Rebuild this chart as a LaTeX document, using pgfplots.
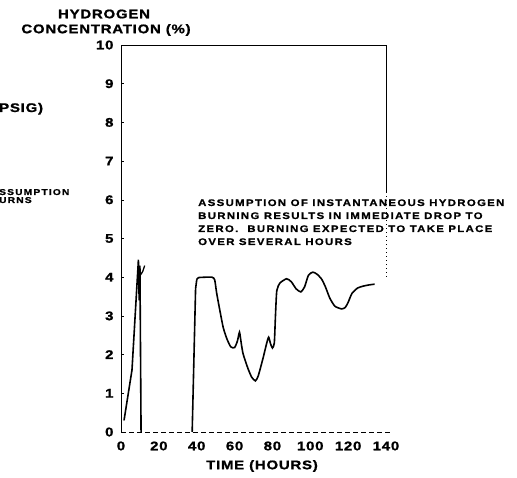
\documentclass[border=0pt]{standalone}
\usepackage{pgfplots}
\pgfplotsset{compat=1.18}
\usepackage{fontspec}
\newfontfamily\lab{Liberation Sans Bold}[FakeStretch=1.2, LetterSpace=6, FakeBold=1.2]
\newfontfamily\ann{Liberation Sans Bold}[FakeStretch=1.2, LetterSpace=14, FakeBold=1.0]
\begin{document}
\begin{tikzpicture}[x=1pt,y=1pt]
\useasboundingbox (0,0) rectangle (517,478);
\begin{axis}[
  at={(121pt,46pt)}, anchor=south west,
  scale only axis, width=265pt, height=387pt,
  xmin=0, xmax=140, ymin=0, ymax=10,
  axis line style={draw=none},
  xtick={0,20,...,140}, ytick={0,1,...,10},
  xtick style={draw=none},
  ytick style={black, line width=0.5pt},
  ytick pos=left,
  tick align=inside, major tick length=3pt,
  ticklabel style={font=\lab\fontsize{12.5}{14}\selectfont},
  xticklabel style={yshift=-6pt},
  yticklabel style={xshift=-4pt},
  /pgf/number format/assume math mode=true,
  clip=false,
]
\draw[line width=0.6pt] (rel axis cs:0,0) -- (rel axis cs:0,1) -- (rel axis cs:1,1) -- (rel axis cs:1,0.62);
\draw[line width=0.5pt, dash pattern=on 1pt off 3pt] (rel axis cs:1,0.62) -- (rel axis cs:1,0.4);
\draw[line width=0.5pt, dash pattern=on 5pt off 3pt] (rel axis cs:0,0) -- (rel axis cs:1.02,0);
% first burn
\addplot[black, line width=1.6pt] coordinates {
(1.6,0.3) (5.8,1.6) (9.2,4.45) (9.6,3.4) (10.0,4.3) (10.6,0)
};
\addplot[black, line width=1.3pt] coordinates {
(10.2,4.05) (11.5,4.15) (12.5,4.3)
};
% second part
\addplot[black, line width=1.6pt] coordinates {
(37.6,0) (39.4,3.7) (40.0,3.93)
};
\addplot[black, line width=1.6pt, smooth, tension=0.35] coordinates {
(40.0,3.93) (41,3.99) (48,4.0) (49.5,3.93) (50.5,3.6) (52,3.2)
(54,2.7) (56,2.4) (58,2.2) (60,2.18) (61.5,2.35) (62.6,2.58) (63.5,2.3)
(64.5,2.02) (67,1.65) (69,1.42) (71,1.32) (72.5,1.45) (75,1.9) (77,2.3)
(78,2.45) (79,2.28) (80,2.17) (81,2.3) (81.6,3.0) (82.3,3.65) (84,3.85)
(87.5,3.96) (90,3.88) (92.5,3.7) (95,3.62) (97,3.75) (99,4.05) (101.3,4.13)
(103.5,4.08) (106,3.95) (108,3.75) (110.3,3.46) (113,3.25) (116.6,3.18)
(118.5,3.22) (120,3.35) (122,3.58) (125,3.72) (128,3.77) (131,3.8) (134,3.82)
};
\end{axis}
% titles and labels
\node[font=\lab\fontsize{12.5}{14}\selectfont, inner sep=0] at (104,464) {HYDROGEN};
\node[font=\lab\fontsize{12.5}{14}\selectfont, inner sep=0] at (106,448) {CONCENTRATION (\%)};
\node[font=\lab\fontsize{12.5}{14}\selectfont, inner sep=0] at (262,12) {TIME (HOURS)};
% annotation
\begin{scope}[every node/.style={font=\ann\fontsize{9.5}{11}\selectfont, inner sep=0, anchor=base west}]
\node at (198,272) {ASSUMPTION OF INSTANTANEOUS HYDROGEN};
\node at (198,259) {BURNING RESULTS IN IMMEDIATE DROP TO};
\node at (198,246) {ZERO.\ \ BURNING EXPECTED TO TAKE PLACE};
\node at (198,233) {OVER SEVERAL HOURS};
\end{scope}
% fragments of the neighbouring chart
\node[font=\lab\fontsize{12.5}{14}\selectfont, inner sep=0, anchor=base west] at (-1,366) {PSIG)};
\node[font=\ann\fontsize{8.5}{10}\selectfont, inner sep=0, anchor=base west] at (-1,283) {SSUMPTION};
\node[font=\ann\fontsize{8.5}{10}\selectfont, inner sep=0, anchor=base west] at (-1,275) {URNS};
\end{tikzpicture}
\end{document}
